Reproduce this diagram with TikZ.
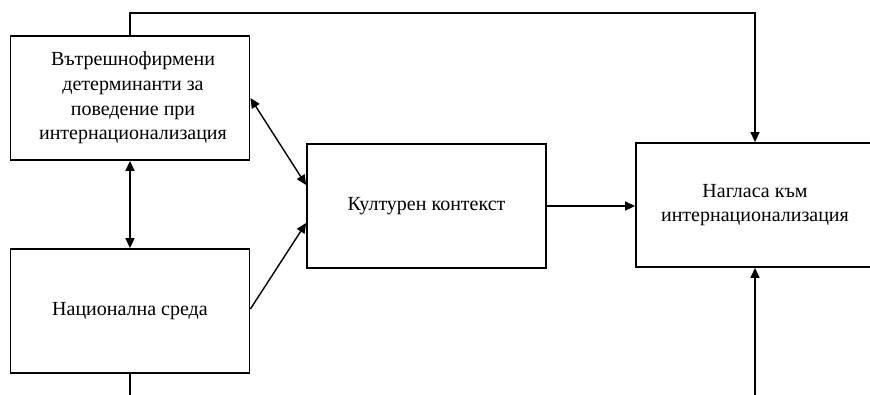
\documentclass[tikz,border=0pt]{standalone}
\usepackage{fontspec}
\setmainfont{Liberation Serif}
\usetikzlibrary{arrows.meta}
\begin{document}
\begin{tikzpicture}[x=1pt,y=-1pt,
  block/.style={draw, line width=1.8pt, minimum width=239pt, minimum height=124pt,
    inner sep=0pt, align=center, font=\fontsize{20}{24.7}\selectfont},
  link/.style={line width=1.4pt},
  arr/.style={link, -{Triangle[length=10pt,width=9pt]}},
  biarr/.style={link, {Triangle[length=10pt,width=9pt]}-{Triangle[length=10pt,width=9pt]}}]
  \useasboundingbox (0,0) rectangle (870,394);
  \clip (0,0) rectangle (870,394);

  % boxes
  \node[block] (firm) at (130,98) {\raisebox{-3pt}{\begin{tabular}{@{}c@{}}Вътрешнофирмени\\детерминанти за\\поведение при\\интернационализация\end{tabular}}\hspace*{-6pt}};
  \node[block] (env)  at (130,311) {Национална среда};
  \node[block] (cult) at (426.5,206) {Културен контекст};
  \node[block, minimum width=238pt] (att) at (755,205) {Нагласа към\\интернационализация};

  % free ends of the outer connectors
  \coordinate (top) at (440,13);
  \coordinate (attin) at (755,400);
  \coordinate (envout) at (130,400);

  % connectors
  \draw[arr] (firm.north) |- (top) -| (att.north);
  \draw[arr] (attin) -- (att.south);
  \draw[link] (env.south) -- (envout);
  \draw[biarr] (firm.south) -- (env.north);
  \draw[biarr] (firm.east) -- ([yshift=21pt]cult.west);
  \draw[arr] ([yshift=2pt]env.east) -- ([yshift=-17pt]cult.west);
  \draw[arr] (cult.east) -- (cult.east -| att.west);
\end{tikzpicture}
\end{document}
